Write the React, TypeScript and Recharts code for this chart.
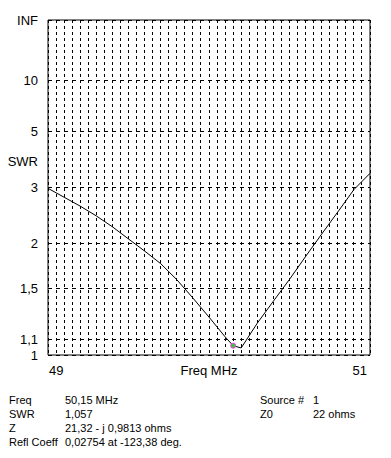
import React from 'react';
import {
  LineChart,
  Line,
  XAxis,
  YAxis,
  CartesianGrid,
  ReferenceArea,
  ReferenceDot,
  Label,
} from 'recharts';

// Frequency sweep (MHz) and SWR values
const freqMHz = [49.0, 49.1, 49.2, 49.3, 49.4, 49.5, 49.6, 49.7, 49.8, 49.9, 50.0, 50.1, 50.15, 50.2, 50.3, 50.4, 50.5, 50.6, 50.7, 50.8, 50.9, 51.0];
const swrValues = [2.98, 2.78, 2.6, 2.42, 2.24, 2.06, 1.9, 1.75, 1.58, 1.41, 1.255, 1.115, 1.057, 1.043, 1.21, 1.383, 1.583, 1.833, 2.13, 2.49, 2.95, 3.37];

// Y axis ticks (SWR) and their labels
const yTickSwr = [1, 1.1, 1.5, 2, 3, 5, 10, Infinity];
const yTickLabels = ['1', '1,1', '1,5', '2', '3', '5', '10', 'INF'];

// X axis labels and grid step
const xTickLabels = [49, 51];
const xGridStep = 0.05;

// Marker
const markerFreq = 50.15;
const markerSwr = 1.057;

// Info block
const infoLeft = [
  ['Freq', '50,15 MHz'],
  ['SWR', '1,057'],
  ['Z', '21,32 - j 0,9813 ohms'],
  ['Refl Coeff', '0,02754 at -123,38 deg.'],
];
const infoRight = [
  ['Source #', '1'],
  ['Z0', '22 ohms'],
];

const toRho = (s: number) => (s === Infinity ? 1 : (s - 1) / (s + 1));

const data = freqMHz.map((f, i) => ({ f, rho: toRho(swrValues[i]) }));
const yTicks = yTickSwr.map(toRho);
const xMin = xTickLabels[0];
const xMax = xTickLabels[xTickLabels.length - 1];
const nGrid = Math.round((xMax - xMin) / xGridStep);
const xGridTicks = Array.from({ length: nGrid + 1 }, (_, i) => +(xMin + i * xGridStep).toFixed(2));

const FONT = 'Liberation Sans, Arial, sans-serif';

const YTick = (props: any) => {
  const { x, y, payload } = props;
  const idx = yTicks.findIndex((t) => Math.abs(t - payload.value) < 1e-6);
  if (idx < 0) return null;
  return (
    <text x={x} y={y + 4.5} textAnchor="end" fontSize={13} fontFamily={FONT} fill="#000">
      {yTickLabels[idx]}
    </text>
  );
};

const XTick = (props: any) => {
  const { x, y, payload } = props;
  const v = payload.value;
  const idx = xTickLabels.findIndex((t) => Math.abs(t - v) < 1e-6);
  if (idx < 0) return null;
  const anchor = idx === 0 ? 'start' : 'end';
  return (
    <text x={x + (idx === 0 ? 1 : -3)} y={y + 19.5} textAnchor={anchor} fontSize={13} fontFamily={FONT} fill="#000">
      {String(v)}
    </text>
  );
};

export default function App() {
  return (
    <div style={{ position: 'absolute', left: 0, top: 0, width: 391, height: 458, background: '#fff' }}>
      <style>{`.recharts-cartesian-grid line, .recharts-reference-area rect { shape-rendering: crispEdges; }`}</style>
      <LineChart width={391} height={458} data={data} margin={{ top: 20, right: 21, bottom: 73, left: 0 }}>
        <CartesianGrid vertical={false} horizontal stroke="#000" strokeDasharray="4 4" />
        <CartesianGrid horizontal={false} vertical stroke="#000" strokeDasharray="3 3" />
        <XAxis
          dataKey="f"
          type="number"
          domain={[xMin, xMax]}
          ticks={xGridTicks}
          interval={0}
          height={30}
          axisLine={false}
          tickLine={false}
          tickSize={0}
          tickMargin={0}
          tick={<XTick />}
        >
          <Label
            content={(p: any) => {
              const vb = p.viewBox || { x: 48, y: 355, width: 322 };
              return (
                <text x={vb.x + vb.width / 2} y={vb.y + 19.5} textAnchor="middle" fontSize={13} fontFamily={FONT} fill="#000">
                  Freq MHz
                </text>
              );
            }}
          />
        </XAxis>
        <YAxis
          type="number"
          domain={[0, 1]}
          ticks={yTicks}
          interval={0}
          width={48}
          axisLine={false}
          tickLine={false}
          tickSize={0}
          tickMargin={10}
          tick={<YTick />}
        >
          <Label
            content={(p: any) => {
              const vb = p.viewBox || { x: 0, y: 20, width: 48, height: 335 };
              return (
                <text x={vb.x + vb.width - 10} y={vb.y + 145.5} textAnchor="end" fontSize={13} fontFamily={FONT} fill="#000">
                  SWR
                </text>
              );
            }}
          />
        </YAxis>
        <ReferenceArea x1={xMin} x2={xMax} y1={0} y2={1} fill="none" stroke="#000" strokeWidth={1} ifOverflow="visible" />
        <Line type="linear" dataKey="rho" stroke="#000" strokeWidth={1} dot={false} isAnimationActive={false} />
        <ReferenceDot x={markerFreq} y={toRho(markerSwr)} r={2.5} fill="#33cc33" stroke="#ff33ff" strokeWidth={1} ifOverflow="visible" />
      </LineChart>
      <div style={{ position: 'absolute', left: 0, top: 393, width: 391, fontFamily: FONT, fontSize: 11, lineHeight: '14px', color: '#000' }}>
        {infoLeft.map(([k, v], i) => (
          <div key={'l' + i} style={{ position: 'absolute', top: i * 14, left: 0, width: 391, height: 14 }}>
            <span style={{ position: 'absolute', left: 9 }}>{k}</span>
            <span style={{ position: 'absolute', left: 65, whiteSpace: 'nowrap' }}>{v}</span>
          </div>
        ))}
        {infoRight.map(([k, v], i) => (
          <div key={'r' + i} style={{ position: 'absolute', top: i * 14, left: 0, width: 391, height: 14 }}>
            <span style={{ position: 'absolute', left: 260 }}>{k}</span>
            <span style={{ position: 'absolute', left: 313, whiteSpace: 'nowrap' }}>{v}</span>
          </div>
        ))}
      </div>
    </div>
  );
}
